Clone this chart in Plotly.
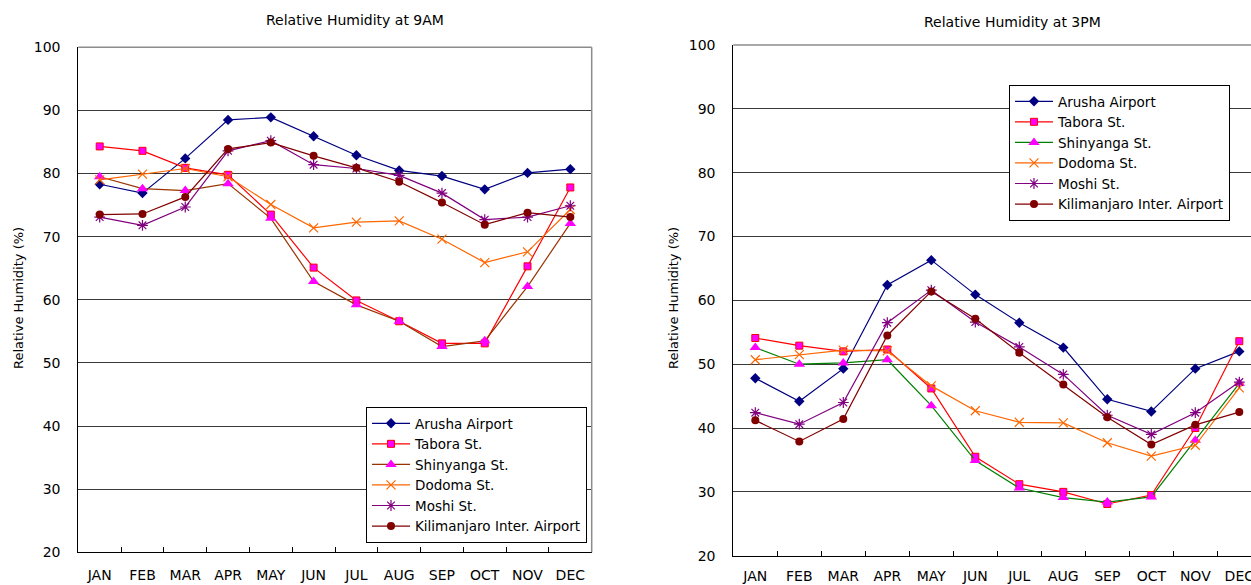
import plotly.graph_objects as go

# Months on the category axis
months = ["JAN", "FEB", "MAR", "APR", "MAY", "JUN", "JUL", "AUG", "SEP", "OCT", "NOV", "DEC"]

# Station names
stations = ["Arusha Airport", "Tabora St.", "Shinyanga St.", "Dodoma St.", "Moshi St.",
            "Kilimanjaro Inter. Airport"]

# Mean relative humidity (%) at 9AM
am_arusha = [78.3, 76.9, 82.4, 88.5, 88.9, 85.9, 82.9, 80.5, 79.6, 77.5, 80.1, 80.7]
am_tabora = [84.3, 83.6, 80.9, 79.8, 73.5, 65.1, 59.9, 56.6, 53.1, 53.1, 65.3, 77.8]
am_shinyanga = [79.5, 77.6, 77.3, 78.4, 72.9, 62.9, 59.2, 56.6, 52.6, 53.5, 62.1, 72.1]
am_dodoma = [79.0, 79.9, 80.8, 79.5, 75.1, 71.4, 72.3, 72.5, 69.6, 65.9, 67.6, 74.3]
am_moshi = [73.1, 71.8, 74.7, 83.6, 85.2, 81.4, 80.8, 79.7, 76.9, 72.7, 73.1, 74.9]
am_kilimanjaro = [73.5, 73.6, 76.3, 83.9, 84.9, 82.8, 80.9, 78.7, 75.4, 71.9, 73.8, 73.1]

# Mean relative humidity (%) at 3PM
pm_arusha = [47.8, 44.2, 49.3, 62.4, 66.3, 60.9, 56.5, 52.6, 44.5, 42.6, 49.3, 52.0]
pm_tabora = [54.1, 52.9, 52.0, 52.3, 46.2, 35.5, 31.2, 30.0, 28.1, 29.5, 40.0, 53.6]
pm_shinyanga = [52.6, 50.0, 50.2, 50.7, 43.5, 34.9, 30.6, 29.1, 28.4, 29.2, 38.1, 47.0]
pm_dodoma = [50.7, 51.5, 52.2, 52.1, 46.6, 42.7, 40.9, 40.8, 37.7, 35.6, 37.3, 46.3]
pm_moshi = [42.4, 40.6, 44.0, 56.5, 61.6, 56.6, 52.7, 48.4, 42.0, 39.0, 42.4, 47.2]
pm_kilimanjaro = [41.2, 37.9, 41.4, 54.5, 61.4, 57.1, 51.8, 46.8, 41.7, 37.4, 40.5, 42.5]

W, H = 1251, 585
FONT = "DejaVu Sans, Arial, sans-serif"


def px_x(v):
    return v / W


def px_y(v):
    return 1 - v / H


def style(i, panel):
    """Line colour and marker for station i in a given panel."""
    shinyanga_line = "#993300" if panel == "am" else "#008000"
    styles = [
        dict(line="#000080", marker=dict(symbol="diamond", size=8, color="#000080")),
        dict(line="#FF0000", marker=dict(symbol="square", size=7, color="#FF00FF",
                                         line=dict(color="#FF0000", width=1))),
        dict(line=shinyanga_line, marker=dict(symbol="triangle-up", size=10, color="#FF00FF")),
        dict(line="#FF6600", marker=dict(symbol="x-thin-open", size=9,
                                         line=dict(color="#FF6600", width=1.2))),
        dict(line="#800080", marker=dict(symbol="asterisk-open", size=9,
                                         line=dict(color="#800080", width=1.2))),
        dict(line="#800000", marker=dict(symbol="circle", size=8, color="#800000")),
    ]
    return styles[i]


fig = go.Figure()

am_series = [am_arusha, am_tabora, am_shinyanga, am_dodoma, am_moshi, am_kilimanjaro]
pm_series = [pm_arusha, pm_tabora, pm_shinyanga, pm_dodoma, pm_moshi, pm_kilimanjaro]

for i, (name, vals) in enumerate(zip(stations, am_series)):
    s = style(i, "am")
    fig.add_trace(go.Scatter(
        x=months, y=vals, name=name, mode="lines+markers",
        line=dict(color=s["line"], width=1.2), marker=s["marker"],
        xaxis="x", yaxis="y", legend="legend",
    ))

for i, (name, vals) in enumerate(zip(stations, pm_series)):
    s = style(i, "pm")
    fig.add_trace(go.Scatter(
        x=months, y=vals, name=name, mode="lines+markers",
        line=dict(color=s["line"], width=1.2), marker=s["marker"],
        xaxis="x2", yaxis="y2", legend="legend2",
    ))

xcommon = dict(
    type="category", categoryorder="array", categoryarray=months,
    showgrid=False, showline=True, linecolor="#000000", linewidth=1,
    ticks="inside", tickson="boundaries", ticklen=5, tickcolor="#000000",
    tickfont=dict(family=FONT, size=14, color="#000000"),
    zeroline=False, fixedrange=True, automargin=False,
)
ycommon = dict(
    range=[20, 100], tick0=20, dtick=10,
    showgrid=True, gridcolor="#3a3a3a", gridwidth=1,
    showline=True, linecolor="#000000", linewidth=1,
    ticks="", tickfont=dict(family=FONT, size=14, color="#000000"),
    ticklabelstandoff=14, zeroline=False, fixedrange=True, automargin=False,
)

legend_common = dict(
    xanchor="left", yanchor="top",
    bgcolor="white", bordercolor="#000000", borderwidth=1,
    font=dict(family=FONT, size=13.5, color="#000000"),
    tracegroupgap=0, itemwidth=38,
)

fig.update_layout(
    width=W, height=H,
    margin=dict(l=0, r=0, t=0, b=0, autoexpand=False),
    paper_bgcolor="white", plot_bgcolor="white",
    font=dict(family=FONT, size=14, color="#000000"),
    xaxis=dict(xcommon, domain=[px_x(78.3), px_x(591.7)], range=[-0.5, 11.5],
               ticklabelstandoff=10, anchor="y"),
    yaxis=dict(ycommon, domain=[px_y(552.3), px_y(47.3)], anchor="x"),
    xaxis2=dict(xcommon, domain=[px_x(733.3), 1.0],
                range=[-0.5, -0.5 + (W - 733.3) / 44.0],
                ticklabelstandoff=7, anchor="y2"),
    yaxis2=dict(ycommon, domain=[px_y(555.7), px_y(45.0)], anchor="x2"),
    legend=dict(legend_common, x=px_x(366), y=px_y(407)),
    legend2=dict(legend_common, x=px_x(1009), y=px_y(85)),
    showlegend=True,
)

# Grey frame on the top and right of the plotting areas
fig.add_shape(type="line", xref="x domain", yref="y domain", x0=0, x1=1, y0=1, y1=1,
              line=dict(color="#8c8c8c", width=1.5), layer="above")
fig.add_shape(type="line", xref="x domain", yref="y domain", x0=1, x1=1, y0=0, y1=1,
              line=dict(color="#8c8c8c", width=1.5), layer="above")
fig.add_shape(type="line", xref="x2 domain", yref="y2 domain", x0=0, x1=1, y0=1, y1=1,
              line=dict(color="#8c8c8c", width=1.5), layer="above")

# Panel titles
title_font = dict(family=FONT, size=14, color="#000000")
fig.add_annotation(text="Relative Humidity at 9AM", x=px_x(355), y=px_y(20),
                   xref="paper", yref="paper", showarrow=False,
                   xanchor="center", yanchor="middle", font=title_font)
fig.add_annotation(text="Relative Humidity at 3PM", x=px_x(1012), y=px_y(22),
                   xref="paper", yref="paper", showarrow=False,
                   xanchor="center", yanchor="middle", font=title_font)

# Y-axis titles
axis_title_font = dict(family=FONT, size=13, color="#000000")
fig.add_annotation(text="Relative Humidity (%)", x=px_x(18), y=px_y(298),
                   xref="paper", yref="paper", showarrow=False, textangle=-90,
                   xanchor="center", yanchor="middle", font=axis_title_font)
fig.add_annotation(text="Relative Humidity (%)", x=px_x(673), y=px_y(298),
                   xref="paper", yref="paper", showarrow=False, textangle=-90,
                   xanchor="center", yanchor="middle", font=axis_title_font)

fig.write_html("out.html", config=dict(displayModeBar=False))
